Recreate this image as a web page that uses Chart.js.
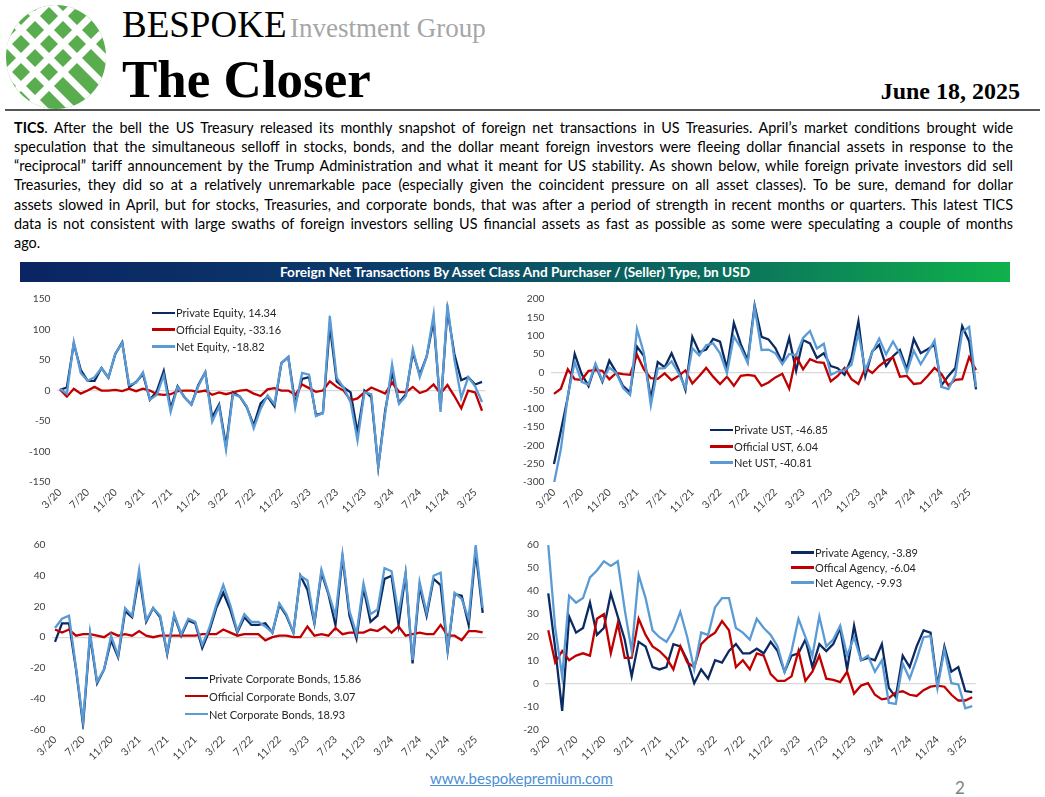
<!DOCTYPE html>
<html><head><meta charset="utf-8">
<script src="https://cdn.jsdelivr.net/npm/chart.js@4.4.1/dist/chart.umd.min.js"></script>
<style>
html,body{margin:0;padding:0;background:#fff;}
#page{position:relative;width:1045px;height:797px;overflow:hidden;background:#fff;font-family:Lato,'Noto Sans',sans-serif;}
.abs{position:absolute;white-space:nowrap;line-height:1;}
.serif{font-family:'Liberation Serif','DejaVu Serif',serif;}
#rule{position:absolute;left:5px;top:109px;width:1035px;height:2px;background:#555;}
#para{position:absolute;left:14px;top:117.5px;width:999px;font-size:14.4px;line-height:19.33px;color:#000;}
#para span.l{display:block;text-align:justify;text-align-last:justify;white-space:nowrap;}
#para span.last{text-align-last:left;}
#banner{position:absolute;left:20px;top:262px;width:990px;height:20px;background:linear-gradient(90deg,#0b2463 0%,#0b3a6a 35%,#0b6e5e 70%,#0fb24b 100%);color:#fff;font-weight:bold;font-size:13.6px;text-align:center;line-height:20px;white-space:nowrap;}
.cbox{position:absolute;}
.legend{position:absolute;font-size:11px;color:#262626;}
.legend .row{display:flex;align-items:center;white-space:nowrap;}
.legend .sw{display:inline-block;width:23px;height:2.6px;margin-right:1px;}
#foot{position:absolute;left:430px;top:771px;font-size:15px;color:#4a8fd6;text-decoration:underline;white-space:nowrap;line-height:1;}
#pnum{position:absolute;left:955px;top:779px;font-size:17px;color:#808080;line-height:1;}
</style></head>
<body>
<div id="page">
  <svg width="108" height="110" viewBox="0 0 108 110" style="position:absolute;left:2px;top:1px">
    <defs><clipPath id="cl"><ellipse cx="54" cy="56" rx="50" ry="52"/></clipPath></defs>
    <g clip-path="url(#cl)">
      <rect width="108" height="110" fill="#5aad4f"/>
      <g stroke="#fff" stroke-width="7">
        <line x1="-40" y1="-30" x2="120" y2="130"/>
        <line x1="-40" y1="-2" x2="120" y2="158"/>
        <line x1="-40" y1="-58" x2="120" y2="102"/>
        <line x1="-40" y1="26" x2="120" y2="186"/>
        <line x1="-40" y1="-86" x2="120" y2="74"/>
        <line x1="-40" y1="60" x2="120" y2="-100"/>
        <line x1="-40" y1="88" x2="120" y2="-72"/>
        <line x1="-40" y1="116" x2="120" y2="-44"/>
        <line x1="-40" y1="144" x2="120" y2="-16"/>
        <line x1="-40" y1="172" x2="120" y2="12"/>
      </g>
    </g>
  </svg>
  <div class="abs serif" style="left:122px;top:6px;font-size:37px;color:#000;">BESPOKE</div>
  <div class="abs serif" style="left:290px;top:14.5px;font-size:27px;color:#a6a6a6;">Investment Group</div>
  <div class="abs serif" style="left:122px;top:52.5px;font-size:53px;font-weight:bold;color:#000;">The Closer</div>
  <div class="abs serif" style="right:25px;top:79px;font-size:24px;font-weight:bold;color:#000;">June 18, 2025</div>
  <div id="rule"></div>
  <div id="para">
    <span class="l"><b>TICS</b>. After the bell the US Treasury released its monthly snapshot of foreign net transactions in US Treasuries. April’s market conditions brought wide</span>
    <span class="l">speculation that the simultaneous selloff in stocks, bonds, and the dollar meant foreign investors were fleeing dollar financial assets in response to the</span>
    <span class="l">“reciprocal” tariff announcement by the Trump Administration and what it meant for US stability. As shown below, while foreign private investors did sell</span>
    <span class="l">Treasuries, they did so at a relatively unremarkable pace (especially given the coincident pressure on all asset classes). To be sure, demand for dollar</span>
    <span class="l">assets slowed in April, but for stocks, Treasuries, and corporate bonds, that was after a period of strength in recent months or quarters. This latest TICS</span>
    <span class="l">data is not consistent with large swaths of foreign investors selling US financial assets as fast as possible as some were speculating a couple of months</span>
    <span class="l last">ago.</span>
  </div>
  <div id="banner">Foreign Net Transactions By Asset Class And Purchaser / (Seller) Type, bn USD</div>

  <div class="cbox" style="left:0px;top:287px;width:500px;height:240px;"><canvas id="c1"></canvas></div>
  <div class="cbox" style="left:495px;top:287px;width:505px;height:240px;"><canvas id="c2"></canvas></div>
  <div class="cbox" style="left:0px;top:533px;width:500px;height:235px;"><canvas id="c3"></canvas></div>
  <div class="cbox" style="left:495px;top:533px;width:505px;height:235px;"><canvas id="c4"></canvas></div>

  <div id="l1" class="legend"></div>
  <div id="l2" class="legend"></div>
  <div id="l3" class="legend"></div>
  <div id="l4" class="legend"></div>

  <div id="foot">www.bespokepremium.com</div>
  <div id="pnum">2</div>
</div>
<script>
const categories = ["3/20","4/20","5/20","6/20","7/20","8/20","9/20","10/20","11/20","12/20",
"1/21","2/21","3/21","4/21","5/21","6/21","7/21","8/21","9/21","10/21","11/21","12/21",
"1/22","2/22","3/22","4/22","5/22","6/22","7/22","8/22","9/22","10/22","11/22","12/22",
"1/23","2/23","3/23","4/23","5/23","6/23","7/23","8/23","9/23","10/23","11/23","12/23",
"1/24","2/24","3/24","4/24","5/24","6/24","7/24","8/24","9/24","10/24","11/24","12/24",
"1/25","2/25","3/25","4/25"];

const eqPrivate = [1,5,77,34,16,16,37,21,60,79,6,14,27,-15,-1,32,-29,7,-11,-23,9,30,-44,-23,-91,-3,-10,-27,-57,-21,-10,-26,45,55,-21,19,22,-40,-37,107,15,5,-3,-69,0,-11,-125,-33,30,-20,-6,62,26,56,115,-30,132,60,17,22,10,14.34];
const eqOfficial = [2,-10,3,-5,0,6,0,0,1,-1,3,-1,3,0,-6,-7,-6,-1,0,0,-2,0,-7,-3,-6,-3,0,1,-5,-9,2,4,0,0,-7,10,4,-2,0,15,6,0,-16,-13,-3,5,0,-5,13,-2,-3,6,-4,0,10,-5,9,-9,-29,0,-3,-33.16];
const eqNet = [3,-5,80,29,16,22,37,21,61,78,9,13,30,-15,-7,25,-35,6,-11,-23,7,30,-51,-26,-97,-6,-10,-26,-62,-30,-8,-22,45,55,-28,29,26,-42,-37,122,21,5,-19,-82,-3,-6,-125,-38,43,-22,-9,68,22,56,125,-35,141,51,-12,22,7,-18.82];

const ustPrivate = [-251,-160,-68,50,-5,-38,20,-26,32,0,-38,-55,70,44,-72,28,14,52,8,-48,97,55,62,91,84,10,135,77,32,183,97,90,66,26,94,4,88,79,39,52,17,11,-7,39,139,-10,57,75,17,44,61,8,91,52,63,75,-36,-10,12,126,85,-46.85];
const ustOfficial = [-59,-45,8,-19,-21,4,6,4,-19,-2,-5,-7,48,8,-16,-18,-3,-22,-10,5,-31,-10,12,-12,-32,-12,-37,-10,-7,-10,-37,-28,-14,-4,-45,44,8,36,28,26,-25,-10,12,-19,-32,12,-2,17,32,41,-12,-10,-32,-30,-10,12,-5,-36,-21,-19,41,6.04];
const ustNet = [-304,-210,-65,28,-26,-34,24,-23,13,-2,-43,-62,118,52,-90,10,11,30,-2,-43,66,46,74,79,52,-2,98,67,25,177,61,62,52,22,50,46,94,113,65,78,-7,2,6,20,108,5,55,92,49,84,51,0,59,22,53,87,-40,-46,-9,110,124,-40.81];

const corpPrivate = [-3,9,9,-21,-57,1,-30,-21,-2,-13,17,13,40,10,19,13,-11,14,1,11,9,-7,4,19,29,18,3,13,8,8,9,3,21,14,3,40,31,9,42,28,8,52,14,-1,32,10,14,38,40,8,41,-17,33,14,38,34,-9,28,27,8,56,15.86];
const corpOfficial = [5,3,5,1,2,2,1,0,3,1,2,1,4,1,0,1,1,1,1,1,1,2,2,2,5,3,1,2,2,2,-2,0,1,1,0,0,7,1,2,1,6,2,3,3,3,5,4,7,3,7,1,2,3,2,2,8,1,1,-2,4,4,3.07];
const corpNet = [6,12,14,-20,-55,3,-29,-21,1,-12,19,14,44,11,19,14,-10,15,2,12,10,-5,6,21,34,21,4,15,10,10,7,3,22,15,3,40,37,10,44,29,14,54,17,2,35,15,18,45,43,15,42,-15,36,16,40,42,-8,29,25,12,60,18.93];

const agPrivate = [39,15,-12,29,22,24,35,21,24,39,29,19,3,18,16,7,6,7,17,16,10,0,6,2,10,9,14,17,13,13,15,13,18,14,5,12,13,19,7,17,14,17,24,6,25,10,11,10,17,-2,-6,12,7,16,23,22,-1,16,5,7,-3.4,-3.89];
const agOfficial = [23,9,14,10,12,13,12,28,30,13,26,11,11,28,21,16,14,11,6,16,9,7,17,20,22,27,23,7,10,6,13,12,4,1,1,3,14,1,5,12,2,1.5,0.5,5,-4.5,-1,0,-5,-7,-6.5,-4,-3.5,-5,-5.5,-3,-1.5,-1,-1.5,-5,-7.5,-7.5,-6.04];
const agNet = [60,24,3,38,35,37,46,49,53,51,53,32,14,47,37,23,20,18,23,31,20,6,22,21,33,37,37,24,22,19,28,24,21,16,5,14,28,20,12,29,16,19,25,12,20,10,12,5,10,-8.5,-9,8.5,2,10.5,20,20.5,-2,14.5,0,-0.5,-10.9,-9.93];

const eqNames = ["Private Equity","Official Equity","Net Equity"];
const ustNames = ["Private UST","Official UST","Net UST"];
const corpNames = ["Private Corporate Bonds","Official Corporate Bonds","Net Corporate Bonds"];
const agNames = ["Private Agency","Offical Agency","Net Agency"];

const seriesColors = ["#0c2a62","#c00000","#5b9bd5"];
const drawOrder = [2,1,0];
const FONT = "Lato, 'Noto Sans', sans-serif";

function makeChart(id, legendId, names, series, yMin, yMax, yStep, box, legendPos) {
  const datasets = series.map((vals, k) => ({
    label: names[k] + ", " + vals[vals.length - 1],
    data: vals,
    borderColor: seriesColors[k],
    backgroundColor: seriesColors[k],
    borderWidth: 2.3,
    pointRadius: 0,
    tension: 0,
    fill: false,
    order: drawOrder[k]
  }));
  const chart = new Chart(document.getElementById(id), {
    type: "line",
    data: { labels: categories, datasets },
    options: {
      responsive: true,
      maintainAspectRatio: false,
      animation: false,
      events: [],
      layout: { padding: { top: box.padTop, right: box.padRight, left: 0, bottom: 0 } },
      plugins: { legend: { display: false }, tooltip: { enabled: false } },
      scales: {
        x: {
          offset: true,
          grid: { display: false, drawTicks: false },
          border: { display: false },
          afterFit: (s) => { s.height = box.xH; },
          ticks: {
            autoSkip: false, minRotation: 45, maxRotation: 45, padding: 4,
            color: "#404040", font: { family: FONT, size: 10.5 },
            callback: (v, i) => (i % 4 === 0 ? categories[i] : null)
          }
        },
        y: {
          min: yMin, max: yMax,
          afterFit: (s) => { s.width = box.yW; },
          border: { display: false },
          grid: {
            drawTicks: false,
            lineWidth: 1.3,
            color: (ctx) => (ctx.tick && ctx.tick.value === 0 ? "#d9d9d9" : "rgba(0,0,0,0)")
          },
          ticks: { stepSize: yStep, padding: 6, color: "#404040", font: { family: FONT, size: 10.2 } }
        }
      }
    }
  });
  const lg = document.getElementById(legendId);
  lg.style.left = legendPos.left + "px";
  lg.style.top = (legendPos.center - legendPos.gap / 2) + "px";
  datasets.forEach((ds) => {
    const row = document.createElement("div");
    row.className = "row";
    row.style.height = legendPos.gap + "px";
    const sw = document.createElement("span");
    sw.className = "sw";
    sw.style.background = ds.borderColor;
    const tx = document.createElement("span");
    tx.textContent = ds.label;
    row.appendChild(sw);
    row.appendChild(tx);
    lg.appendChild(row);
  });
  return chart;
}

makeChart("c1", "l1", eqNames, [eqPrivate, eqOfficial, eqNet], -150, 150, 50,
  { yW: 56.5, padTop: 8, padRight: 14.5, xH: 45 }, { left: 152, center: 313, gap: 16.7 });
makeChart("c2", "l2", ustNames, [ustPrivate, ustOfficial, ustNet], -300, 200, 50,
  { yW: 55.5, padTop: 8, padRight: 20.5, xH: 45 }, { left: 710, center: 430, gap: 16.3 });
makeChart("c3", "l3", corpNames, [corpPrivate, corpOfficial, corpNet], -60, 60, 20,
  { yW: 51.5, padTop: 8.7, padRight: 13.8, xH: 38.7 }, { left: 185, center: 678, gap: 18 });
makeChart("c4", "l4", agNames, [agPrivate, agOfficial, agNet], -20, 60, 10,
  { yW: 49.8, padTop: 8.7, padRight: 24.3, xH: 38.7 }, { left: 791, center: 552.5, gap: 15 });
</script>
</body></html>
